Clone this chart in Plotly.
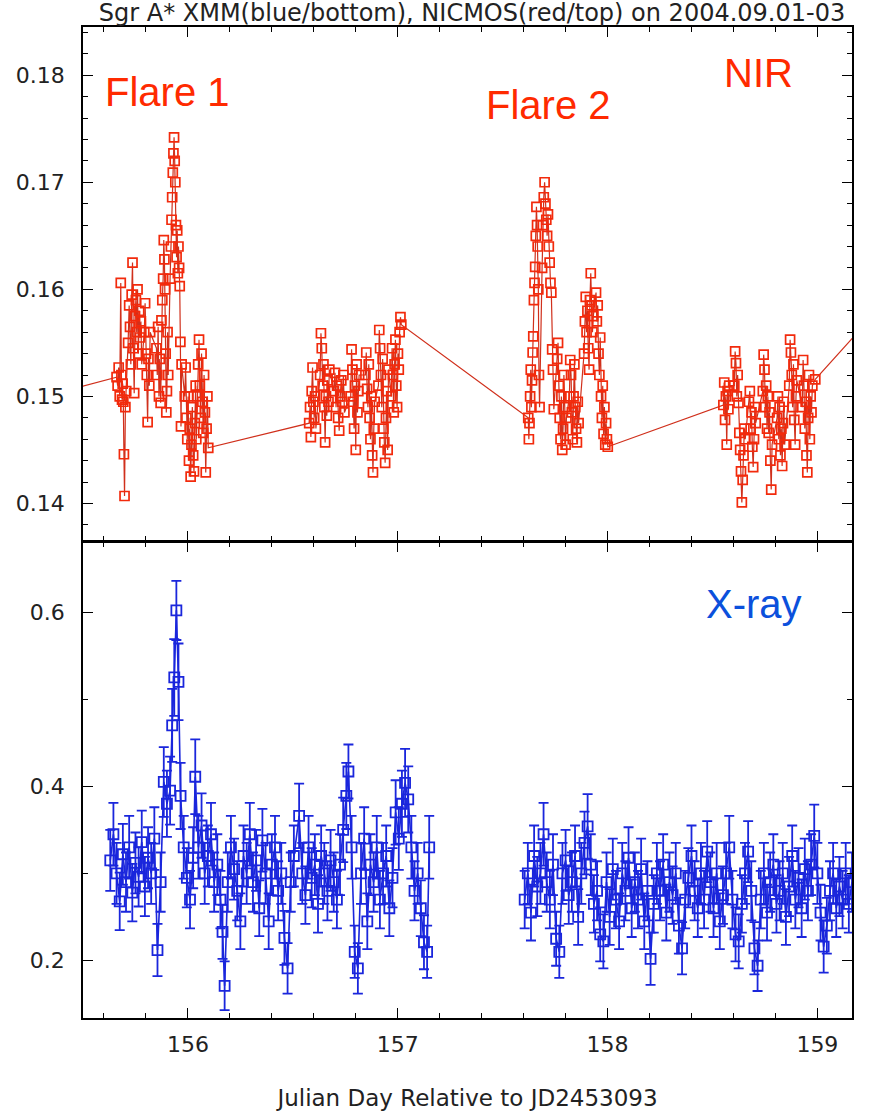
import plotly.graph_objects as go

# ---------------- NIR (NICMOS) light curve : day, flux ----------------
nir_day = [
    155.300,
    155.660, 155.665, 155.670, 155.675, 155.680, 155.683, 155.686, 155.689, 155.692, 155.695, 155.698, 155.702, 155.706,
    155.715, 155.720, 155.724, 155.728, 155.732, 155.736, 155.740, 155.744, 155.748, 155.752, 155.756, 155.760, 155.764, 155.768, 155.772, 155.776, 155.780,
    155.792, 155.796, 155.800, 155.804, 155.808, 155.812, 155.816, 155.820,
    155.850, 155.854, 155.858, 155.862, 155.866, 155.870, 155.874, 155.878, 155.882, 155.885, 155.888, 155.891, 155.894, 155.897, 155.900, 155.903, 155.906,
    155.915, 155.919, 155.922, 155.925, 155.928, 155.931, 155.934, 155.937, 155.940, 155.943, 155.946, 155.949, 155.952, 155.955, 155.958, 155.961, 155.964, 155.967, 155.970,
    155.985, 155.989, 155.993, 155.997, 156.001, 156.005, 156.009, 156.013, 156.017, 156.021, 156.025, 156.029, 156.033, 156.037, 156.040,
    156.045, 156.049, 156.053, 156.057, 156.061, 156.065, 156.069, 156.073, 156.077, 156.081, 156.085, 156.089, 156.093, 156.097,
    156.578, 156.582, 156.586, 156.590, 156.594, 156.598, 156.602, 156.606, 156.610,
    156.630, 156.634, 156.638, 156.642, 156.646, 156.650, 156.654, 156.658, 156.662, 156.666, 156.670, 156.674,
    156.696, 156.701, 156.706, 156.711, 156.716, 156.721, 156.726, 156.731, 156.736, 156.741, 156.746,
    156.776, 156.780, 156.784, 156.788, 156.792, 156.796, 156.800, 156.804, 156.808, 156.812, 156.816,
    156.846, 156.850, 156.854, 156.858, 156.862, 156.866, 156.870, 156.874, 156.878, 156.882, 156.886, 156.890,
    156.908, 156.912, 156.916, 156.920, 156.924, 156.928, 156.932, 156.936, 156.940, 156.944, 156.948, 156.952, 156.956,
    156.969, 156.973, 156.977, 156.981, 156.985, 156.989, 156.993, 156.997, 157.001, 157.005, 157.009, 157.013, 157.017,
    157.622, 157.625, 157.628, 157.631, 157.634, 157.637, 157.640, 157.643, 157.646, 157.649, 157.652, 157.655, 157.658, 157.661, 157.664, 157.667, 157.670, 157.673, 157.676,
    157.688, 157.692, 157.696, 157.700, 157.704, 157.708, 157.712, 157.716, 157.720, 157.724, 157.728, 157.732, 157.736, 157.740, 157.744,
    157.760, 157.764, 157.768, 157.772, 157.776, 157.780, 157.784, 157.788, 157.792, 157.796, 157.800, 157.804,
    157.818, 157.822, 157.826, 157.830, 157.834, 157.838, 157.842, 157.846, 157.850, 157.854, 157.858, 157.862,
    157.888, 157.892, 157.896, 157.900, 157.904, 157.908, 157.912, 157.916, 157.920, 157.924, 157.928, 157.932,
    157.945, 157.949, 157.953, 157.957, 157.961, 157.965, 157.969, 157.973, 157.977, 157.981, 157.985, 157.989, 157.993, 157.997, 158.001,
    158.552, 158.556, 158.560, 158.564, 158.568, 158.572, 158.576, 158.580,
    158.604, 158.608, 158.612, 158.616, 158.620, 158.624, 158.628, 158.632, 158.636, 158.640, 158.644, 158.648, 158.652, 158.656,
    158.674, 158.678, 158.682, 158.686, 158.690, 158.694, 158.698, 158.702, 158.706,
    158.740, 158.744, 158.748, 158.752, 158.756, 158.760, 158.764, 158.768, 158.772, 158.776, 158.780, 158.784,
    158.808, 158.812, 158.816, 158.820, 158.824, 158.828, 158.832, 158.836, 158.840, 158.844,
    158.866, 158.870, 158.874, 158.878, 158.882, 158.886, 158.890, 158.894, 158.898, 158.902,
    158.928, 158.932, 158.936, 158.940, 158.944, 158.948, 158.952, 158.956, 158.960, 158.964, 158.968, 158.972, 158.976, 158.990,
    159.400,
]
nir_flux = [
    0.1499,
    0.1518, 0.1510, 0.1527, 0.1500, 0.1606, 0.1520, 0.1497, 0.1512, 0.1495, 0.1446, 0.1407, 0.1490, 0.1505,
    0.1550, 0.1585, 0.1565, 0.1530, 0.1595, 0.1625, 0.1545, 0.1503, 0.1575, 0.1590, 0.1560, 0.1600, 0.1540, 0.1580, 0.1555, 0.1570, 0.1530,
    0.1560, 0.1587, 0.1540, 0.1520, 0.1476, 0.1535, 0.1510, 0.1560,
    0.1545, 0.1520, 0.1565, 0.1500, 0.1535, 0.1494, 0.1571, 0.1590, 0.1610, 0.1646, 0.1628, 0.1600, 0.1540, 0.1485, 0.1505, 0.1560, 0.1520,
    0.1610, 0.1640, 0.1665, 0.1686, 0.1709, 0.1727, 0.1742, 0.1720, 0.1700, 0.1660, 0.1630, 0.1655, 0.1615, 0.1640, 0.1620, 0.1603, 0.1551, 0.1472, 0.1530,
    0.1500, 0.1527, 0.1480, 0.1460, 0.1500, 0.1440, 0.1470, 0.1425, 0.1455, 0.1490, 0.1445, 0.1430, 0.1475, 0.1510, 0.1460,
    0.1500, 0.1530, 0.1553, 0.1510, 0.1480, 0.1540, 0.1495, 0.1466, 0.1520, 0.1485, 0.1429, 0.1470, 0.1500, 0.1452,
    0.1475, 0.1490, 0.1462, 0.1505, 0.1527, 0.1495, 0.1480, 0.1500, 0.1470,
    0.1520, 0.1559, 0.1545, 0.1510, 0.1530, 0.1490, 0.1457, 0.1500, 0.1482, 0.1515, 0.1495, 0.1525,
    0.1505, 0.1522, 0.1490, 0.1510, 0.1480, 0.1468, 0.1500, 0.1515, 0.1495, 0.1520, 0.1485,
    0.1500, 0.1544, 0.1525, 0.1495, 0.1470, 0.1510, 0.1450, 0.1530, 0.1485, 0.1505, 0.1520,
    0.1520, 0.1541, 0.1507, 0.1490, 0.1530, 0.1480, 0.1460, 0.1500, 0.1445, 0.1429, 0.1470, 0.1495,
    0.1510, 0.1562, 0.1545, 0.1520, 0.1490, 0.1535, 0.1470, 0.1457, 0.1438, 0.1480, 0.1505, 0.1450, 0.1525,
    0.1500, 0.1545, 0.1520, 0.1485, 0.1530, 0.1553, 0.1510, 0.1490, 0.1540, 0.1525, 0.1560, 0.1574, 0.1567,
    0.1480, 0.1460, 0.1475, 0.1500, 0.1525, 0.1490, 0.1515, 0.1541, 0.1556, 0.1590, 0.1606, 0.1621, 0.1650, 0.1677, 0.1660, 0.1640, 0.1600, 0.1520, 0.1490,
    0.1620, 0.1660, 0.1686, 0.1700, 0.1680, 0.1665, 0.1650, 0.1670, 0.1640, 0.1625, 0.1606, 0.1597, 0.1544, 0.1525, 0.1488,
    0.1535, 0.1550, 0.1510, 0.1480, 0.1460, 0.1500, 0.1450, 0.1470, 0.1520, 0.1490, 0.1455, 0.1480,
    0.1500, 0.1534, 0.1520, 0.1485, 0.1460, 0.1500, 0.1530, 0.1490, 0.1470, 0.1457, 0.1495, 0.1475,
    0.1540, 0.1570, 0.1593, 0.1560, 0.1580, 0.1545, 0.1525, 0.1590, 0.1615, 0.1585, 0.1560, 0.1575,
    0.1597, 0.1570, 0.1585, 0.1540, 0.1520, 0.1555, 0.1500, 0.1480, 0.1510, 0.1465, 0.1490, 0.1455, 0.1475, 0.1460, 0.1453,
    0.1492, 0.1513, 0.1478, 0.1500, 0.1455, 0.1505, 0.1488, 0.1510,
    0.1510, 0.1542, 0.1531, 0.1500, 0.1520, 0.1494, 0.1466, 0.1450, 0.1430, 0.1401, 0.1422, 0.1445, 0.1470, 0.1460,
    0.1495, 0.1505, 0.1470, 0.1485, 0.1453, 0.1434, 0.1460, 0.1490, 0.1475,
    0.1505, 0.1539, 0.1525, 0.1490, 0.1510, 0.1470, 0.1500, 0.1466, 0.1485, 0.1440, 0.1413, 0.1455,
    0.1480, 0.1500, 0.1460, 0.1490, 0.1445, 0.1470, 0.1435, 0.1475, 0.1495, 0.1455,
    0.1510, 0.1553, 0.1541, 0.1520, 0.1490, 0.1530, 0.1478, 0.1455, 0.1500, 0.1515,
    0.1490, 0.1534, 0.1510, 0.1470, 0.1495, 0.1445, 0.1429, 0.1480, 0.1520, 0.1460, 0.1500, 0.1485, 0.1510, 0.1516,
    0.1605,
]

# ---------------- X-ray (XMM) light curve, first visit : day, rate, error ----------------
xray1_day = [
    155.630, 155.645, 155.660, 155.675, 155.690, 155.705, 155.720, 155.735, 155.750, 155.765,
    155.780, 155.795, 155.810, 155.825, 155.840, 155.855, 155.870, 155.885, 155.900, 155.915,
    155.925, 155.935, 155.945, 155.955, 155.965, 155.980, 155.995, 156.010, 156.025, 156.035,
    156.050, 156.065, 156.080, 156.095, 156.110, 156.125, 156.140, 156.155, 156.165, 156.175,
    156.190, 156.205, 156.220, 156.235, 156.250, 156.265, 156.280, 156.295, 156.310, 156.325,
    156.340, 156.355, 156.370, 156.385, 156.400, 156.415, 156.430, 156.445, 156.460, 156.475,
    156.490, 156.505, 156.530, 156.545, 156.560, 156.575, 156.590, 156.605, 156.620, 156.635,
    156.650, 156.665, 156.680, 156.695, 156.710, 156.725, 156.740, 156.755, 156.765, 156.780,
    156.795, 156.810, 156.825, 156.840, 156.855, 156.870, 156.885, 156.900, 156.915, 156.930,
    156.945, 156.960, 156.975, 156.990, 157.005, 157.020, 157.035, 157.050, 157.065, 157.080,
    157.095, 157.110, 157.125, 157.140, 157.150,
]
xray1_rate = [
    0.315, 0.345, 0.300, 0.268, 0.322, 0.290, 0.330, 0.278, 0.312, 0.296,
    0.336, 0.285, 0.318, 0.300, 0.340, 0.212, 0.290, 0.405, 0.380, 0.395,
    0.470, 0.525, 0.602, 0.520, 0.389, 0.330, 0.295, 0.270, 0.318, 0.411,
    0.330, 0.355, 0.300, 0.320, 0.345, 0.290, 0.310, 0.270, 0.233, 0.171,
    0.290, 0.330, 0.305, 0.280, 0.245, 0.320, 0.300, 0.345, 0.290, 0.315,
    0.260, 0.338, 0.300, 0.245, 0.310, 0.330, 0.280, 0.300, 0.226, 0.191,
    0.290, 0.320, 0.366, 0.300, 0.275, 0.330, 0.295, 0.310, 0.265, 0.320,
    0.300, 0.280, 0.315, 0.290, 0.270, 0.310, 0.350, 0.389, 0.417, 0.330,
    0.210, 0.191, 0.300, 0.340, 0.245, 0.310, 0.290, 0.330, 0.270, 0.300,
    0.320, 0.260, 0.295, 0.370, 0.340, 0.380, 0.404, 0.385, 0.330, 0.280,
    0.300, 0.260, 0.221, 0.210, 0.330,
]
xray1_err = [
    0.035, 0.036, 0.035, 0.033, 0.035, 0.034, 0.036, 0.033, 0.035, 0.034,
    0.036, 0.034, 0.035, 0.035, 0.036, 0.030, 0.034, 0.040, 0.038, 0.039,
    0.042, 0.044, 0.034, 0.044, 0.038, 0.036, 0.034, 0.033, 0.035, 0.043,
    0.036, 0.037, 0.035, 0.035, 0.036, 0.034, 0.035, 0.033, 0.031, 0.028,
    0.034, 0.036, 0.035, 0.034, 0.032, 0.035, 0.035, 0.036, 0.034, 0.035,
    0.032, 0.036, 0.035, 0.032, 0.035, 0.036, 0.034, 0.035, 0.031, 0.029,
    0.034, 0.035, 0.037, 0.035, 0.033, 0.036, 0.034, 0.035, 0.033, 0.035,
    0.035, 0.034, 0.035, 0.034, 0.033, 0.035, 0.037, 0.038, 0.031, 0.036,
    0.030, 0.029, 0.035, 0.036, 0.032, 0.035, 0.034, 0.036, 0.033, 0.035,
    0.035, 0.032, 0.034, 0.037, 0.036, 0.038, 0.039, 0.038, 0.036, 0.034,
    0.035, 0.032, 0.031, 0.030, 0.036,
]

# ---------------- X-ray (XMM) light curve, second visit ----------------
xray2_day = [
    157.605, 157.620, 157.635, 157.650, 157.665, 157.680, 157.695, 157.710, 157.725, 157.740,
    157.755, 157.770, 157.785, 157.800, 157.815, 157.830, 157.845, 157.860, 157.875, 157.890,
    157.905, 157.920, 157.935, 157.950, 157.965, 157.980, 157.995, 158.010, 158.025, 158.040,
    158.055, 158.070, 158.085, 158.100, 158.115, 158.130, 158.145, 158.160, 158.175, 158.190,
    158.205, 158.220, 158.235, 158.250, 158.265, 158.280, 158.295, 158.310, 158.325, 158.340,
    158.355, 158.370, 158.385, 158.400, 158.415, 158.430, 158.445, 158.460, 158.475, 158.490,
    158.505, 158.520, 158.535, 158.550, 158.565, 158.580, 158.595, 158.610, 158.625, 158.640,
    158.655, 158.670, 158.685, 158.700, 158.715, 158.730, 158.745, 158.760, 158.775, 158.790,
    158.805, 158.820, 158.835, 158.850, 158.865, 158.880, 158.895, 158.910, 158.925, 158.940,
    158.955, 158.970, 158.985, 159.000, 159.015, 159.030, 159.045, 159.060, 159.075, 159.090,
    159.105, 159.120, 159.135, 159.150, 159.165,
]
xray2_rate = [
    0.270, 0.300, 0.255, 0.320, 0.285, 0.300, 0.345, 0.290, 0.270, 0.310,
    0.225, 0.210, 0.300, 0.315, 0.275, 0.290, 0.320, 0.250, 0.300, 0.335,
    0.354, 0.310, 0.265, 0.280, 0.230, 0.222, 0.290, 0.250, 0.305, 0.270,
    0.245, 0.300, 0.280, 0.318, 0.260, 0.290, 0.270, 0.305, 0.245, 0.280,
    0.202, 0.265, 0.300, 0.280, 0.310, 0.255, 0.290, 0.275, 0.300, 0.240,
    0.214, 0.270, 0.295, 0.320, 0.280, 0.260, 0.300, 0.270, 0.325, 0.290,
    0.260, 0.300, 0.245, 0.275, 0.300, 0.330, 0.270, 0.230, 0.222, 0.265,
    0.300, 0.325, 0.280, 0.214, 0.194, 0.270, 0.300, 0.255, 0.290, 0.310,
    0.265, 0.280, 0.300, 0.250, 0.285, 0.320, 0.270, 0.295, 0.260, 0.305,
    0.280, 0.310, 0.343, 0.300, 0.255, 0.216, 0.240, 0.280, 0.300, 0.260,
    0.285, 0.270, 0.300, 0.265, 0.290,
]
xray2_err = [
    0.033, 0.035, 0.032, 0.035, 0.034, 0.035, 0.036, 0.034, 0.033, 0.035,
    0.031, 0.030, 0.035, 0.035, 0.033, 0.034, 0.035, 0.032, 0.035, 0.036,
    0.037, 0.035, 0.033, 0.034, 0.031, 0.031, 0.034, 0.032, 0.035, 0.033,
    0.032, 0.035, 0.034, 0.035, 0.033, 0.034, 0.033, 0.035, 0.032, 0.034,
    0.030, 0.033, 0.035, 0.034, 0.035, 0.032, 0.034, 0.033, 0.035, 0.032,
    0.030, 0.033, 0.034, 0.035, 0.034, 0.033, 0.035, 0.033, 0.035, 0.034,
    0.033, 0.035, 0.032, 0.033, 0.035, 0.036, 0.033, 0.031, 0.031, 0.033,
    0.035, 0.035, 0.034, 0.030, 0.029, 0.033, 0.035, 0.032, 0.034, 0.035,
    0.033, 0.034, 0.035, 0.032, 0.034, 0.035, 0.033, 0.034, 0.033, 0.035,
    0.034, 0.035, 0.036, 0.035, 0.032, 0.030, 0.032, 0.034, 0.035, 0.033,
    0.034, 0.033, 0.035, 0.033, 0.034,
]

title_text = "Sgr A* XMM(blue/bottom), NICMOS(red/top) on 2004.09.01-03"
xaxis_title = "Julian Day Relative to JD2453093"
x_ticks = [156, 157, 158, 159]
nir_ticks = [0.14, 0.15, 0.16, 0.17, 0.18]
xray_ticks = [0.2, 0.4, 0.6]

RED = "#f22a0c"
RED_LINE = "#d0301c"
BLUE = "#1a26dc"
TEXT = "#222222"
TICK_FONT = dict(family="DejaVu Sans", size=22, color=TEXT)

fig = go.Figure()
fig.add_trace(go.Scatter(
    x=nir_day, y=nir_flux, mode="lines+markers", xaxis="x2", yaxis="y2",
    line=dict(color=RED_LINE, width=1.2),
    marker=dict(symbol="square-open", size=9, color=RED, line=dict(width=1.7, color=RED)),
    showlegend=False,
))
for xd, xr, xe in [(xray1_day, xray1_rate, xray1_err), (xray2_day, xray2_rate, xray2_err)]:
    fig.add_trace(go.Scatter(
        x=xd, y=xr, mode="lines+markers", xaxis="x", yaxis="y",
        line=dict(color=BLUE, width=1.6),
        marker=dict(symbol="square-open", size=10, color=BLUE, line=dict(width=1.8, color=BLUE)),
        error_y=dict(type="data", array=xe, visible=True, color=BLUE, thickness=1.8, width=5),
        showlegend=False,
    ))

W, H = 871, 1119
L, R, T, B = 83, 852, 27, 1020
MID = 542
ph = B - T
split = (B - MID) / ph
LW = 1.5

common = dict(showline=True, linecolor="black", linewidth=LW, mirror="allticks",
              ticks="inside", ticklen=10, tickwidth=1.2, tickcolor="black",
              showgrid=False, zeroline=False, tickfont=TICK_FONT)

fig.update_layout(
    width=W, height=H,
    margin=dict(l=L, r=W - R, t=T, b=H - B),
    paper_bgcolor="white", plot_bgcolor="white",
    title=dict(text=title_text, x=472 / W, xanchor="center", xref="container",
               y=1 - 13 / H, yanchor="middle", yref="container",
               font=dict(family="DejaVu Sans", size=24, color=TEXT)),
    xaxis=dict(range=[155.5, 159.165], anchor="y", tickvals=x_ticks, ticktext=[str(v) for v in x_ticks],
               minor=dict(dtick=0.2, tick0=156, ticks="inside", ticklen=5, tickcolor="black", tickwidth=1),
               title=dict(text=xaxis_title, standoff=34, font=dict(family="DejaVu Sans", size=23, color=TEXT)),
               ticklabelstandoff=6, **common),
    xaxis2=dict(range=[155.5, 159.165], anchor="y2", matches="x", showticklabels=False, tickvals=x_ticks,
                minor=dict(dtick=0.2, tick0=156, ticks="inside", ticklen=5, tickcolor="black", tickwidth=1),
                **common),
    yaxis=dict(domain=[0, split - LW / ph], range=[0.134, 0.68], anchor="x", tickvals=xray_ticks,
               ticktext=["0.2", "0.4", "0.6"],
               minor=dict(dtick=0.1, tick0=0.2, ticks="inside", ticklen=5, tickcolor="black", tickwidth=1),
               ticklabelstandoff=12, **common),
    yaxis2=dict(domain=[split, 1], range=[0.1365, 0.1845], anchor="x2", tickvals=nir_ticks,
                ticktext=["0.14", "0.15", "0.16", "0.17", "0.18"],
                minor=dict(dtick=0.002, tick0=0.14, ticks="inside", ticklen=5, tickcolor="black", tickwidth=1),
                ticklabelstandoff=12, **common),
    annotations=[
        dict(text="Flare 1", x=155.905, y=0.1784, xref="x2", yref="y2", showarrow=False,
             font=dict(family="Liberation Sans", size=40, color="#ff2a00")),
        dict(text="Flare 2", x=157.72, y=0.1772, xref="x2", yref="y2", showarrow=False,
             font=dict(family="Liberation Sans", size=40, color="#ff2a00")),
        dict(text="NIR", x=158.72, y=0.1802, xref="x2", yref="y2", showarrow=False,
             font=dict(family="Liberation Sans", size=40, color="#ff2a00")),
        dict(text="X-ray", x=158.70, y=0.609, xref="x", yref="y", showarrow=False,
             font=dict(family="Liberation Sans", size=40, color="#0b50dc")),
    ],
)

assert len(nir_day) == len(nir_flux)
assert len(xray1_day) == len(xray1_rate) == len(xray1_err)
assert len(xray2_day) == len(xray2_rate) == len(xray2_err)

fig.write_html("out.html")
